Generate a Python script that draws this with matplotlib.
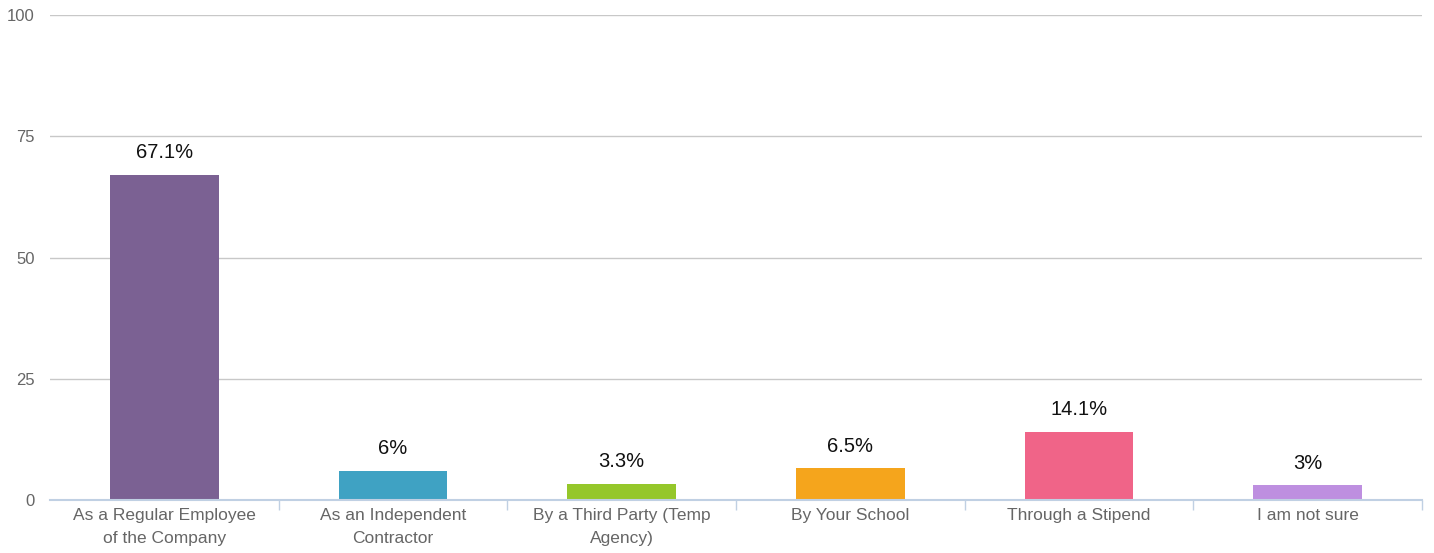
import matplotlib.pyplot as plt

categories = ["As a Regular Employee\nof the Company", "As an Independent\nContractor",
              "By a Third Party (Temp\nAgency)", "By Your School", "Through a Stipend", "I am not sure"]
values = [67.1, 6, 3.3, 6.5, 14.1, 3]
labels = ["67.1%", "6%", "3.3%", "6.5%", "14.1%", "3%"]
colours = ["#7B6193", "#3FA2C3", "#95C72A", "#F5A51C", "#F06488", "#BE8FE0"]
yticks = [0, 25, 50, 75, 100]

plt.rcParams['font.family'] = ['Liberation Sans', 'DejaVu Sans']

fig = plt.figure(figsize=(14.34, 5.53), dpi=100)
ax = fig.add_axes([50 / 1434, 1 - 500 / 553, 1372 / 1434, 485 / 553])

x = range(len(categories))
ax.bar(x, values, width=0.475, color=colours, zorder=3)
for i, (v, lab) in enumerate(zip(values, labels)):
    ax.annotate(lab, (i, v), xytext=(0, 9), textcoords="offset points",
                ha="center", va="bottom", fontsize=14.5, color="#111111")

ax.set_xlim(-0.5, len(categories) - 0.5)
ax.set_ylim(0, 100)
ax.set_yticks(yticks)
ax.set_yticklabels([str(t) for t in yticks], fontsize=12, color="#666666")
ax.tick_params(axis="y", length=0, pad=11)
ax.grid(axis="y", color="#C8C8C8", linewidth=1, zorder=0)

# category labels at centres, tick marks at boundaries
ax.set_xticks(list(x))
ax.set_xticklabels(categories, fontsize=12.5, color="#666666", linespacing=1.6)
ax.tick_params(axis="x", length=0, pad=6)
ax.set_xticks([i + 0.5 for i in range(len(categories))], minor=True)
ax.tick_params(axis="x", which="minor", length=7, color="#C0D0E3", width=1)

for s in ["top", "right", "left"]:
    ax.spines[s].set_visible(False)
ax.spines["bottom"].set_color("#C0D0E3")
ax.spines["bottom"].set_linewidth(1.5)
ax.spines["bottom"].set_zorder(4)

fig.savefig("out.png", dpi=100)
